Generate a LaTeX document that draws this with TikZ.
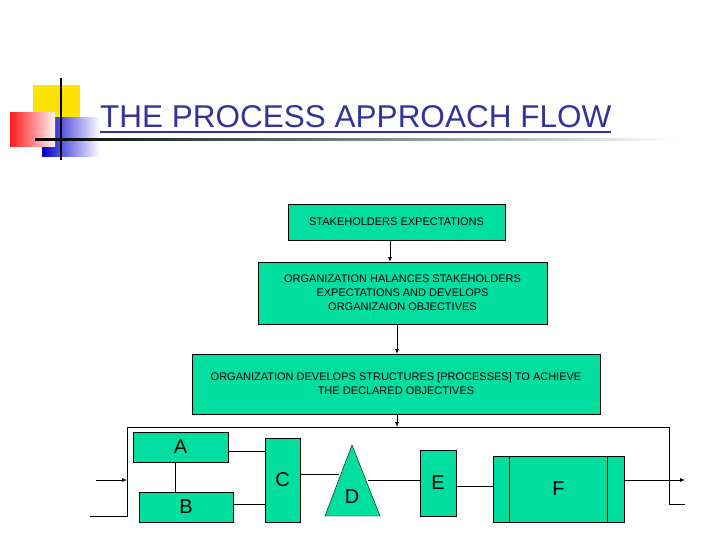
\documentclass[tikz,border=0pt]{standalone}
\usepackage{fontspec}
\setmainfont{Liberation Sans}
\usetikzlibrary{arrows.meta}
\definecolor{tq}{RGB}{0,223,160}
\definecolor{navy}{RGB}{51,51,153}
\begin{document}
\begin{tikzpicture}[x=1pt,y=-1pt,
  box/.style={draw=black,fill=tq,inner sep=0pt,align=center,font=\fontsize{11}{14}\selectfont},
  lbox/.style={draw=black,fill=tq,inner sep=0pt,font=\fontsize{20}{22}\selectfont},
  ar/.style={-{Latex[length=5pt,width=4pt]},line width=0.9pt},
  ln/.style={line width=0.6pt}]
\useasboundingbox (0,0) rectangle (720,540);
% logo
\fill[yellow!85!orange] (33,85) rectangle (80,120);
\shade[left color=blue!80!black, middle color=blue!70!black, right color=white] (42,118) rectangle (100,157);
\shade[left color=red!90, right color=red!5] (10,113) rectangle (55,147);
\draw[line width=1.5pt] (61,78) -- (61,160);
\shade[left color=black, right color=white] (35,139) rectangle (680,141);
\node[anchor=base west,text=navy,font=\fontsize{31.5}{36}\selectfont,inner sep=0pt] (title) at (100,128) {THE PROCESS APPROACH FLOW};
\draw[navy,line width=1.2pt] (100,132) -- (title.east |- 0,132);
% boxes
\node[box,minimum width=217,minimum height=36] (s1) at (396.5,222) {STAKEHOLDERS EXPECTATIONS};
\node[box,minimum width=289,minimum height=62] (s2) at (402.5,293) {ORGANIZATION HALANCES STAKEHOLDERS\\EXPECTATIONS AND DEVELOPS\\ORGANIZAION OBJECTIVES};
\node[box,minimum width=408,minimum height=60] (s3) at (396,384) {ORGANIZATION DEVELOPS STRUCTURES [PROCESSES] TO ACHIEVE\\THE DECLARED OBJECTIVES};
\draw[ar] (390,240) -- (390,262);
\draw[ar] (397,324) -- (397,354);
\coordinate (ft) at (397,427);
\draw[ar] (397,414) -- (ft);
% frame
\draw[ln] (90,516) -- (127,516) -- (127,427) -- (669,427) -- (669,504) -- (685,504);
\coordinate (in0) at (96,480); \coordinate (in1) at (127,480);
\draw[ar] (in0) -- (in1);
\node[lbox,minimum width=95,minimum height=30] (A) at (180.5,447) {A};
\node[lbox,minimum width=94,minimum height=30] (B) at (186,507) {B};
\node[lbox,minimum width=35,minimum height=84] (C) at (282.5,480) {C};
\coordinate (d1) at (352,445); \coordinate (d2) at (325,516); \coordinate (d3) at (380,516);
\fill[tq,draw=black] (d1) -- (d3) -- (d2) -- cycle;
\node[font=\fontsize{20}{22}\selectfont] (D) at (352,497) {D};
\node[lbox,minimum width=36,minimum height=66] (E) at (438,483) {E};
\node[lbox,minimum width=131,minimum height=66] (F) at (558.5,489) {F};
\draw (509,456) -- (509,522) (607,456) -- (607,522);
\draw[ln] (175,462) -- (175,492);
\draw[ln] (A.east |- 0,451) -- (C.west |- 0,451);
\draw[ln] (B.east |- 0,504) -- (C.west |- 0,504);
\draw[ln] (C.east |- 0,474) -- (339,474);
\draw[ln] (368,480) -- (E.west |- 0,480);
\draw[ln] (E.east |- 0,486) -- (F.west |- 0,486);
\coordinate (out) at (685,480);
\draw[ar] (F.east |- out) -- (out);
\end{tikzpicture}
\end{document}
